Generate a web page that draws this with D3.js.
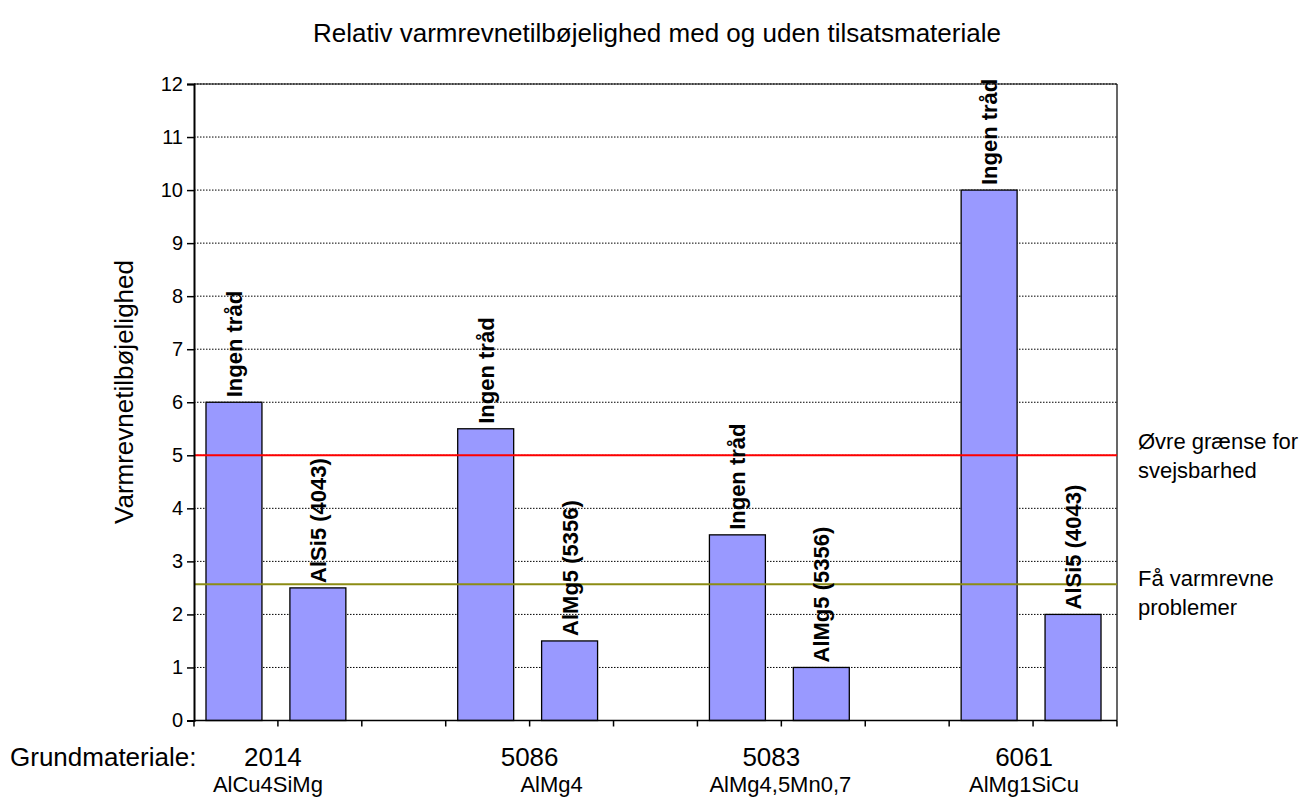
<!DOCTYPE html>
<html><head><meta charset="utf-8">
<script src="https://cdn.jsdelivr.net/npm/d3@7"></script>
<style>body{margin:0;background:#fff}text{font-family:"Liberation Sans",Arial,sans-serif;fill:#000}</style>
</head><body><svg id="c" width="1302" height="800"></svg>
<script>
// ---- data ----
const title = "Relativ varmrevnetilbøjelighed med og uden tilsatsmateriale";
const yTitle = "Varmrevnetilbøjelighed";
const alloys = ["2014", "5086", "5083", "6061"];
const alloyNames = ["AlCu4SiMg", "AlMg4", "AlMg4,5Mn0,7", "AlMg1SiCu"];
const noFillerLabel = "Ingen tråd";
const noFillerValues = [6, 5.5, 3.5, 10];
const fillerLabels = ["AlSi5 (4043)", "AlMg5 (5356)", "AlMg5 (5356)", "AlSi5 (4043)"];
const fillerValues = [2.5, 1.5, 1, 2];
const yTicks = [0,1,2,3,4,5,6,7,8,9,10,11,12];
const refValues = [5, 2.57];
const refColors = ["#ff0000", "#8c8c14"];
const refTexts = [["Øvre grænse for", "svejsbarhed"], ["Få varmrevne", "problemer"]];
const axisPrefix = "Grundmateriale:";

// ---- layout ----
const L = 194, R = 1117, T = 84, B = 720.5;
const nSlots = alloys.length * 3 - 1;
const svg = d3.select("#c");
const x = d3.scaleBand().domain(d3.range(nSlots)).range([L, R]).paddingInner(0.333).paddingOuter(0.1667);
const y = d3.scaleLinear().domain([0, 12]).range([B, T]);
const FF = '"Liberation Sans",Arial,sans-serif';

const bars = [];
alloys.forEach((a, i) => {
  bars.push({slot: i*3, value: noFillerValues[i], label: noFillerLabel});
  bars.push({slot: i*3+1, value: fillerValues[i], label: fillerLabels[i]});
});

// gridlines
svg.append("g").selectAll("line").data(yTicks.filter(d => d > 0)).join("line")
  .attr("x1", L).attr("x2", R).attr("y1", d => y(d)).attr("y2", d => y(d))
  .attr("stroke", "#000").attr("stroke-width", 1).attr("stroke-dasharray", "1.5,1.5");
// top and right border
svg.append("line").attr("x1", L).attr("x2", R).attr("y1", T).attr("y2", T).attr("stroke", "#000").attr("stroke-width", 1);
svg.append("line").attr("x1", R).attr("x2", R).attr("y1", T).attr("y2", B).attr("stroke", "#000").attr("stroke-width", 1.2);

// bars
svg.append("g").selectAll("rect").data(bars).join("rect")
  .attr("x", d => x(d.slot) - 2).attr("width", x.bandwidth())
  .attr("y", d => y(d.value)).attr("height", d => B - y(d.value))
  .attr("fill", "#9999ff").attr("stroke", "#000").attr("stroke-width", 1.3);

// reference lines
svg.append("g").selectAll("line").data(refValues).join("line")
  .attr("x1", L).attr("x2", R).attr("y1", d => y(d)).attr("y2", d => y(d))
  .attr("stroke", (d, i) => refColors[i]).attr("stroke-width", 2);

// bar labels
svg.append("g").selectAll("text").data(bars).join("text")
  .attr("transform", d => `translate(${x(d.slot) - 2 + x.bandwidth()/2 + 8},${y(d.value) - 5}) rotate(-90)`)
  .attr("font-size", 22).attr("font-weight", "bold").text(d => d.label);

// y axis
const ya = svg.append("g").attr("transform", `translate(${L},0)`)
  .call(d3.axisLeft(y).tickValues(yTicks).tickSize(7).tickPadding(4).tickFormat(d3.format("d")));
ya.select(".domain").attr("stroke-width", 2);
ya.selectAll(".tick line").attr("stroke-width", 1.5);
ya.selectAll("text").attr("font-size", 20).style("font-family", FF);

// x axis (ticks at slot boundaries)
const bounds = d3.range(nSlots + 1).map(k => L + k * x.step());
svg.append("line").attr("x1", L).attr("x2", R).attr("y1", B).attr("y2", B).attr("stroke", "#000").attr("stroke-width", 1.5);
svg.append("g").selectAll("line").data(bounds).join("line")
  .attr("x1", d => d).attr("x2", d => d).attr("y1", B).attr("y2", B + 6).attr("stroke", "#000").attr("stroke-width", 1.5);

// category labels
const groupX = i => L + (i*3 + 1) * x.step();
const numDx = [-5, 0, -10, -9], nameDx = [-10, 22, -1, -9];
svg.append("g").selectAll("text").data(alloys).join("text")
  .attr("x", (d, i) => groupX(i) + numDx[i]).attr("y", 766).attr("text-anchor", "middle")
  .attr("font-size", 26).text(d => d);
svg.append("g").selectAll("text").data(alloyNames).join("text")
  .attr("x", (d, i) => groupX(i) + nameDx[i]).attr("y", 792).attr("text-anchor", "middle")
  .attr("font-size", 22).text(d => d);
svg.append("text").attr("x", 10).attr("y", 766).attr("font-size", 26).text(axisPrefix);

// reference labels
const refDy = [-6, 2];
refTexts.forEach((lines, i) => {
  lines.forEach((t, j) => {
    svg.append("text").attr("x", 1138).attr("y", y(refValues[i]) + refDy[i] + j * 29).attr("font-size", 22).text(t);
  });
});

// titles
svg.append("text").attr("x", 657).attr("y", 42).attr("text-anchor", "middle").attr("font-size", 26).text(title);
svg.append("text").attr("transform", "translate(133,392) rotate(-90)").attr("text-anchor", "middle").attr("font-size", 26).text(yTitle);
</script></body></html>
